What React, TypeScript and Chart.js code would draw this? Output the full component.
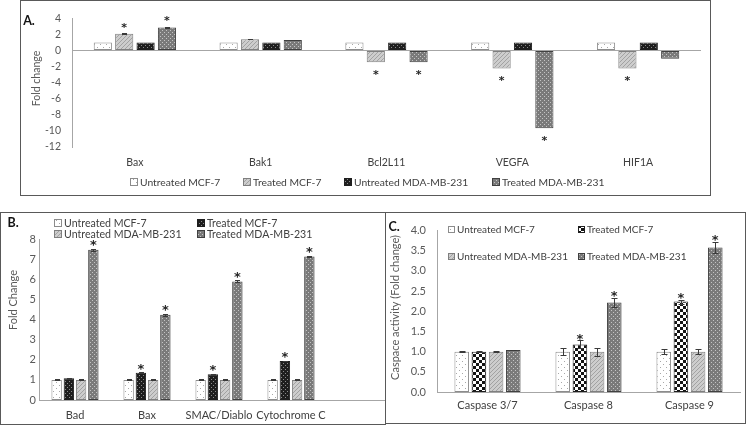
import React, { useEffect, useRef } from "react";
import { Chart, registerables } from "chart.js";
Chart.register(...registerables);

const SERIES = ["Untreated MCF-7", "Treated MCF-7", "Untreated MDA-MB-231", "Treated MDA-MB-231"];

// ---------- Panel A ----------
const A_CATEGORIES = ["Bax", "Bak1", "Bcl2L11", "VEGFA", "HIF1A"];
const A_UNTREATED_MCF7 = [1, 1, 1, 1, 1];
const A_TREATED_MCF7 = [2.08, 1.41, -1.45, -2.24, -2.24];
const A_UNTREATED_MDA = [1, 1, 1, 1, 1];
const A_TREATED_MDA = [2.86, 1.29, -1.45, -9.68, -1.02];
const A_ERR_UNTREATED_MCF7 = [0, 0, 0, 0, 0];
const A_ERR_TREATED_MCF7 = [0.05, 0.03, 0, 0, 0];
const A_ERR_UNTREATED_MDA = [0, 0, 0, 0, 0];
const A_ERR_TREATED_MDA = [0.05, 0, 0, 0, 0];
const A_SIG_UNTREATED_MCF7 = [false, false, false, false, false];
const A_SIG_TREATED_MCF7 = [true, false, true, true, true];
const A_SIG_UNTREATED_MDA = [false, false, false, false, false];
const A_SIG_TREATED_MDA = [true, false, true, true, false];
const A_Y_MIN = -12;
const A_Y_MAX = 4;
const A_Y_STEP = 2;

// ---------- Panel B ----------
const B_CATEGORIES = ["Bad", "Bax", "SMAC/Diablo", "Cytochrome C"];
const B_UNTREATED_MCF7 = [1, 1, 1, 1];
const B_TREATED_MCF7 = [1.08, 1.36, 1.28, 1.94];
const B_UNTREATED_MDA = [1, 1, 1, 1];
const B_TREATED_MDA = [7.46, 4.23, 5.89, 7.13];
const B_ERR_UNTREATED_MCF7 = [0.03, 0.02, 0.02, 0.02];
const B_ERR_TREATED_MCF7 = [0.02, 0.03, 0.03, 0.02];
const B_ERR_UNTREATED_MDA = [0.02, 0.02, 0.02, 0.02];
const B_ERR_TREATED_MDA = [0.05, 0.05, 0.05, 0.04];
const B_SIG_UNTREATED_MCF7 = [false, false, false, false];
const B_SIG_TREATED_MCF7 = [false, true, true, true];
const B_SIG_UNTREATED_MDA = [false, false, false, false];
const B_SIG_TREATED_MDA = [true, true, true, true];
const B_Y_MIN = 0;
const B_Y_MAX = 8;
const B_Y_STEP = 1;

// ---------- Panel C ----------
const C_CATEGORIES = ["Caspase 3/7", "Caspase 8", "Caspase 9"];
const C_UNTREATED_MCF7 = [1.0, 1.0, 1.0];
const C_TREATED_MCF7 = [1.0, 1.18, 2.24];
const C_UNTREATED_MDA = [1.0, 1.0, 1.0];
const C_TREATED_MDA = [1.04, 2.22, 3.58];
const C_ERR_UNTREATED_MCF7 = [0.02, 0.09, 0.06];
const C_ERR_TREATED_MCF7 = [0.01, 0.1, 0.05];
const C_ERR_UNTREATED_MDA = [0.01, 0.1, 0.06];
const C_ERR_TREATED_MDA = [0.01, 0.12, 0.14];
const C_SIG_UNTREATED_MCF7 = [false, false, false];
const C_SIG_TREATED_MCF7 = [false, true, true];
const C_SIG_UNTREATED_MDA = [false, false, false];
const C_SIG_TREATED_MDA = [false, true, true];
const C_Y_MIN = 0;
const C_Y_MAX = 4;
const C_Y_STEP = 0.5;

const FONT = "Lato, 'Open Sans', sans-serif";
const TEXT = "#404040";
const TICK = "#595959";
const AXIS = "#a6a6a6";

type Fill = CanvasPattern | string;

function pat(w: number, h: number, draw: (g: CanvasRenderingContext2D) => void): Fill {
  const c = document.createElement("canvas");
  c.width = w;
  c.height = h;
  const g = c.getContext("2d")!;
  draw(g);
  return g.createPattern(c, "repeat") || "#999";
}

function makePatterns() {
  return {
    dotsWhite: pat(6, 6, (g) => {
      g.fillStyle = "#ffffff";
      g.fillRect(0, 0, 6, 6);
      g.fillStyle = "#a8a8a8";
      g.fillRect(1, 1, 1, 1);
      g.fillRect(4, 4, 1, 1);
    }),
    stripes: pat(4, 4, (g) => {
      g.fillStyle = "#cdcdcd";
      g.fillRect(0, 0, 4, 4);
      g.fillStyle = "#a2a2a2";
      g.fillRect(0, 3, 1, 1);
      g.fillRect(1, 2, 1, 1);
      g.fillRect(2, 1, 1, 1);
      g.fillRect(3, 0, 1, 1);
    }),
    checkSmall: pat(4, 4, (g) => {
      g.fillStyle = "#1e1e1e";
      g.fillRect(0, 0, 4, 4);
      g.fillStyle = "#8a8a8a";
      g.fillRect(0, 0, 1, 1);
      g.fillRect(2, 2, 1, 1);
    }),
    checkLarge: pat(6, 6, (g) => {
      g.fillStyle = "#ffffff";
      g.fillRect(0, 0, 6, 6);
      g.fillStyle = "#141414";
      g.fillRect(0, 0, 3, 3);
      g.fillRect(3, 3, 3, 3);
    }),
    dotsDark: pat(4, 4, (g) => {
      g.fillStyle = "#7a7a7a";
      g.fillRect(0, 0, 4, 4);
      g.fillStyle = "#c4c4c4";
      g.fillRect(1, 1, 1, 1);
      g.fillRect(3, 3, 1, 1);
    }),
  };
}

type TextItem = { text: string; x: number; y: number; font: string; color?: string; rot?: number; align?: CanvasTextAlign };

function textPlugin(texts: TextItem[]) {
  return {
    id: "texts",
    afterDraw(chart: any) {
      const ctx = chart.ctx as CanvasRenderingContext2D;
      texts.forEach((t) => {
        ctx.save();
        ctx.font = t.font;
        ctx.fillStyle = t.color || TEXT;
        ctx.textAlign = t.align || "center";
        ctx.textBaseline = "middle";
        ctx.translate(t.x, t.y);
        if (t.rot) ctx.rotate(t.rot);
        ctx.fillText(t.text, 0, 0);
        ctx.restore();
      });
    },
  };
}

type LegendPos = { mode: "row"; cx: number; y: number; gap: number } | { mode: "grid"; cols: number[]; rows: number[] };

function legendPlugin(labels: string[], fills: Fill[], borders: string[], pos: LegendPos, box: number, font: string) {
  return {
    id: "customLegend",
    afterDraw(chart: any) {
      const ctx = chart.ctx as CanvasRenderingContext2D;
      ctx.save();
      ctx.font = font;
      ctx.textBaseline = "middle";
      ctx.textAlign = "left";
      const coords: number[][] = [];
      if (pos.mode === "row") {
        const widths = labels.map((l) => box + 3 + ctx.measureText(l).width);
        const total = widths.reduce((a, b) => a + b, 0) + pos.gap * (labels.length - 1);
        let x = pos.cx - total / 2;
        labels.forEach((_, i) => {
          coords.push([x, pos.y]);
          x += widths[i] + pos.gap;
        });
      } else {
        labels.forEach((_, i) => {
          coords.push([pos.cols[i % pos.cols.length], pos.rows[Math.floor(i / pos.cols.length)]]);
        });
      }
      labels.forEach((l, i) => {
        const [x, y] = coords[i];
        const bx = Math.round(x);
        const by = Math.round(y - box / 2);
        ctx.fillStyle = fills[i] as any;
        ctx.fillRect(bx, by, box, box);
        ctx.strokeStyle = borders[i];
        ctx.lineWidth = 1;
        ctx.strokeRect(bx + 0.5, by + 0.5, box - 1, box - 1);
        ctx.fillStyle = TEXT;
        ctx.fillText(l, bx + box + 2, y + 0.5);
      });
      ctx.restore();
    },
  };
}

function marksPlugin(errors: number[][], sig: boolean[][], cap: number, gap: number, starSize: number) {
  return {
    id: "marks",
    afterDatasetsDraw(chart: any) {
      const ctx = chart.ctx as CanvasRenderingContext2D;
      const ys = chart.scales.y;
      ctx.save();
      chart.data.datasets.forEach((ds: any, i: number) => {
        const meta = chart.getDatasetMeta(i);
        meta.data.forEach((el: any, j: number) => {
          const v = ds.data[j] as number;
          const e = errors[i][j];
          const x = Math.round(el.x) + 0.5;
          if (e > 0) {
            const y1 = Math.round(ys.getPixelForValue(v + e)) + 0.5;
            const y2 = Math.round(ys.getPixelForValue(v - e)) + 0.5;
            ctx.strokeStyle = "#3a3a3a";
            ctx.lineWidth = 1;
            ctx.beginPath();
            ctx.moveTo(x, y1);
            ctx.lineTo(x, y2);
            ctx.moveTo(x - cap, y1);
            ctx.lineTo(x + cap, y1);
            ctx.moveTo(x - cap, y2);
            ctx.lineTo(x + cap, y2);
            ctx.stroke();
          }
          if (sig[i][j]) {
            const cy = v >= 0 ? ys.getPixelForValue(v + e) - gap : ys.getPixelForValue(v - e) + gap;
            ctx.fillStyle = "#262626";
            ctx.font = `bold ${starSize}px 'DejaVu Sans', sans-serif`;
            ctx.textAlign = "center";
            ctx.textBaseline = "alphabetic";
            ctx.fillText("*", el.x, cy + starSize * 0.58);
          }
        });
      });
      ctx.restore();
    },
  };
}

function baselinePlugin(color: string) {
  return {
    id: "baseline",
    afterDatasetsDraw(chart: any) {
      const ctx = chart.ctx as CanvasRenderingContext2D;
      const y = Math.round(chart.scales.y.getPixelForValue(0)) + 0.5;
      ctx.save();
      ctx.strokeStyle = color;
      ctx.lineWidth = 1;
      ctx.beginPath();
      ctx.moveTo(chart.chartArea.left, y);
      ctx.lineTo(chart.width, y);
      ctx.stroke();
      ctx.restore();
    },
  };
}

function makeDatasets(values: number[][], fills: Fill[], borders: string[]) {
  return SERIES.map((label, i) => ({
    label,
    data: values[i],
    backgroundColor: fills[i] as any,
    borderColor: borders[i],
    borderWidth: 1,
    borderSkipped: false as any,
    categoryPercentage: 0.68,
    barPercentage: 0.85,
  }));
}

function buildA(canvas: HTMLCanvasElement) {
  const P = makePatterns();
  const fills = [P.dotsWhite, P.stripes, P.checkSmall, P.dotsDark];
  const borders = ["#8c8c8c", "#7f7f7f", "#1e1e1e", "#404040"];
  const values = [A_UNTREATED_MCF7, A_TREATED_MCF7, A_UNTREATED_MDA, A_TREATED_MDA];
  const errors = [A_ERR_UNTREATED_MCF7, A_ERR_TREATED_MCF7, A_ERR_UNTREATED_MDA, A_ERR_TREATED_MDA];
  const sig = [A_SIG_UNTREATED_MCF7, A_SIG_TREATED_MCF7, A_SIG_UNTREATED_MDA, A_SIG_TREATED_MDA];
  const W = canvas.width;
  const H = canvas.height;
  return new Chart(canvas, {
    type: "bar",
    data: { labels: A_CATEGORIES, datasets: makeDatasets(values, fills, borders) as any },
    options: {
      responsive: false,
      animation: false,
      events: [],
      layout: { padding: { left: 0, right: W - 680, top: 10, bottom: 0 } },
      plugins: { legend: { display: false }, tooltip: { enabled: false } },
      scales: {
        x: {
          grid: { display: false, drawTicks: false },
          border: { display: false },
          ticks: { padding: 9, font: { family: FONT, size: 10.5 }, color: TEXT, maxRotation: 0, autoSkip: false },
          afterFit: (s: any) => {
            s.height = H - 146;
          },
        },
        y: {
          min: A_Y_MIN,
          max: A_Y_MAX,
          ticks: { stepSize: A_Y_STEP, padding: 11, font: { family: FONT, size: 10.5 }, color: TICK },
          grid: {
            drawTicks: false,
            color: (c: any) => (c.tick && c.tick.value === 0 ? AXIS : "rgba(0,0,0,0)"),
          },
          border: { display: true, color: AXIS },
          afterFit: (s: any) => {
            s.width = 51;
          },
        },
      },
    },
    plugins: [
      marksPlugin(errors, sig, 2.5, 9, 11),
      legendPlugin(SERIES, fills, borders, { mode: "row", cx: W / 2 + 2, y: 181, gap: 22 }, 8, `10.3px ${FONT}`),
      textPlugin([
        { text: "A.", x: 8, y: 19.5, font: `bold 12.5px ${FONT}`, color: "#111" },
        { text: "Fold change", x: 16, y: 77.5, font: `10.5px ${FONT}`, color: TICK, rot: -Math.PI / 2 },
      ]),
    ] as any,
  });
}

function buildB(canvas: HTMLCanvasElement) {
  const P = makePatterns();
  const fills = [P.dotsWhite, P.checkSmall, P.stripes, P.dotsDark];
  const borders = ["#8c8c8c", "#1e1e1e", "#7f7f7f", "#404040"];
  const values = [B_UNTREATED_MCF7, B_TREATED_MCF7, B_UNTREATED_MDA, B_TREATED_MDA];
  const errors = [B_ERR_UNTREATED_MCF7, B_ERR_TREATED_MCF7, B_ERR_UNTREATED_MDA, B_ERR_TREATED_MDA];
  const sig = [B_SIG_UNTREATED_MCF7, B_SIG_TREATED_MCF7, B_SIG_UNTREATED_MDA, B_SIG_TREATED_MDA];
  const W = canvas.width;
  const H = canvas.height;
  return new Chart(canvas, {
    type: "bar",
    data: { labels: B_CATEGORIES, datasets: makeDatasets(values, fills, borders) as any },
    options: {
      responsive: false,
      animation: false,
      events: [],
      layout: { padding: { left: 0, right: W - 326, top: 26, bottom: 0 } },
      plugins: { legend: { display: false }, tooltip: { enabled: false } },
      scales: {
        x: {
          grid: { display: false, drawTicks: false },
          border: { display: false },
          ticks: { padding: 9, font: { family: FONT, size: 11 }, color: TEXT, maxRotation: 0, autoSkip: false },
          afterFit: (s: any) => {
            s.height = H - 187;
          },
        },
        y: {
          min: B_Y_MIN,
          max: B_Y_MAX,
          ticks: { stepSize: B_Y_STEP, padding: 3, font: { family: FONT, size: 11 }, color: TICK },
          grid: { display: false, drawTicks: false },
          border: { display: true, color: AXIS },
          afterFit: (s: any) => {
            s.width = 38;
          },
        },
      },
    },
    plugins: [
      baselinePlugin(AXIS),
      marksPlugin(errors, sig, 2.5, 7, 13),
      legendPlugin(SERIES, fills, borders, { mode: "grid", cols: [53, 196], rows: [10, 21] }, 8, `10.6px ${FONT}`),
      textPlugin([
        { text: "B.", x: 12, y: 10, font: `bold 12.5px ${FONT}`, color: "#111" },
        { text: "Fold Change", x: 12, y: 87, font: `11px ${FONT}`, color: TICK, rot: -Math.PI / 2 },
      ]),
    ] as any,
  });
}

function buildC(canvas: HTMLCanvasElement) {
  const P = makePatterns();
  const fills = [P.dotsWhite, P.checkLarge, P.stripes, P.dotsDark];
  const borders = ["#8c8c8c", "#1e1e1e", "#7f7f7f", "#404040"];
  const values = [C_UNTREATED_MCF7, C_TREATED_MCF7, C_UNTREATED_MDA, C_TREATED_MDA];
  const errors = [C_ERR_UNTREATED_MCF7, C_ERR_TREATED_MCF7, C_ERR_UNTREATED_MDA, C_ERR_TREATED_MDA];
  const sig = [C_SIG_UNTREATED_MCF7, C_SIG_TREATED_MCF7, C_SIG_UNTREATED_MDA, C_SIG_TREATED_MDA];
  const W = canvas.width;
  const H = canvas.height;
  return new Chart(canvas, {
    type: "bar",
    data: { labels: C_CATEGORIES, datasets: makeDatasets(values, fills, borders) as any },
    options: {
      responsive: false,
      animation: false,
      events: [],
      layout: { padding: { left: 0, right: W - 354, top: 12, bottom: 0 } },
      plugins: { legend: { display: false }, tooltip: { enabled: false } },
      scales: {
        x: {
          grid: { display: false, drawTicks: false },
          border: { display: true, color: AXIS },
          ticks: { padding: 7, font: { family: FONT, size: 11 }, color: TEXT, maxRotation: 0, autoSkip: false },
          afterFit: (s: any) => {
            s.height = H - 179;
          },
        },
        y: {
          min: C_Y_MIN,
          max: C_Y_MAX,
          ticks: {
            stepSize: C_Y_STEP,
            padding: 11,
            font: { family: FONT, size: 11 },
            color: TICK,
            callback: (v: any) => Number(v).toFixed(1),
          },
          grid: { display: false, drawTicks: false },
          border: { display: true, color: AXIS },
          afterFit: (s: any) => {
            s.width = 51;
          },
        },
      },
    },
    plugins: [
      marksPlugin(errors, sig, 3, 5, 13),
      legendPlugin(SERIES, fills, borders, { mode: "grid", cols: [62, 192], rows: [16, 43] }, 7, `10px ${FONT}`),
      textPlugin([
        { text: "C.", x: 8, y: 14, font: `bold 12.5px ${FONT}`, color: "#111" },
        { text: "Caspace activity (Fold change)", x: 9, y: 94.5, font: `11px ${FONT}`, color: TICK, rot: -Math.PI / 2 },
      ]),
    ] as any,
  });
}

function Panel(props: { left: number; top: number; width: number; height: number; build: (c: HTMLCanvasElement) => Chart }) {
  const ref = useRef<HTMLCanvasElement>(null);
  const { left, top, width, height, build } = props;
  useEffect(() => {
    const chart = build(ref.current!);
    return () => chart.destroy();
  }, []);
  return (
    <div
      style={{
        position: "absolute",
        left,
        top,
        width,
        height,
        border: "1px solid #595959",
        boxSizing: "border-box",
        background: "#fff",
      }}
    >
      <canvas ref={ref} width={width - 2} height={height - 2} style={{ display: "block", width: width - 2, height: height - 2 }} />
    </div>
  );
}

export default function App() {
  return (
    <div style={{ position: "absolute", left: 0, top: 0, width: 746, height: 426, background: "#fff", overflow: "hidden" }}>
      <Panel left={20} top={0} width={691} height={196} build={buildA} />
      <Panel left={0} top={212} width={386} height={213} build={buildB} />
      <Panel left={385} top={212} width={361} height={212} build={buildC} />
    </div>
  );
}
